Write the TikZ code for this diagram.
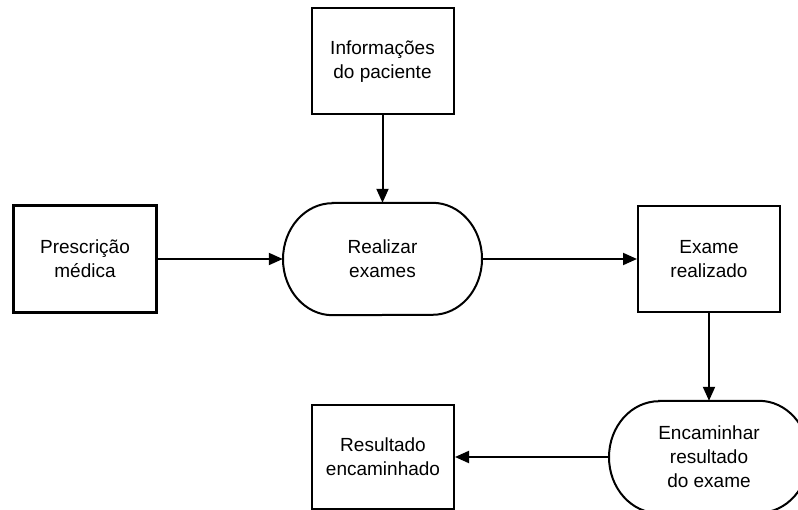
\documentclass[tikz,border=0pt]{standalone}
\usepackage{fontspec}
\setmainfont{Liberation Sans}
\usetikzlibrary{arrows.meta}
\begin{document}
\begin{tikzpicture}[x=1pt,y=-1pt,
  every node/.style={font=\fontsize{19}{24}\selectfont, align=center, inner sep=0pt},
  databox/.style={draw, line width=2pt, rectangle, minimum width=142pt, minimum height=106pt},
  sourcebox/.style={databox, line width=3.5pt},
  procbox/.style={rectangle, minimum width=199pt, minimum height=112pt},
  procline/.style={line width=2pt},
  flow/.style={line width=2pt, -{Triangle[length=14pt,width=12pt]}}]
  \useasboundingbox (0,0) rectangle (798,510);
  \clip (0,0) rectangle (798,510);

  % data boxes
  \node[databox]   (info)  at (382.5,61.5) {Informações\\do paciente};
  \node[sourcebox, minimum width=143pt, minimum height=107pt] (presc) at (85,259) {Prescrição\\médica};
  \node[databox]   (exame) at (709,259.5) {Exame\\realizado};
  \node[databox, minimum height=104pt] (res) at (383,457) {Resultado\\encaminhado};

  % processes
  \node[procbox] (real) at (382.5,259) {Realizar\\exames};
  \node[procbox, minimum width=200pt] (enc) at (709,457) {Encaminhar\\resultado\\do exame};

  \draw[procline] ([xshift=-50pt]real.north) -- ([xshift=50pt]real.north)
    arc[start angle=90, end angle=-90, x radius=49.5pt, y radius=56pt]
    -- ([xshift=-50pt]real.south)
    arc[start angle=270, end angle=90, x radius=49.5pt, y radius=56pt] -- cycle;
  \draw[procline] ([xshift=-50pt]enc.north) -- ([xshift=50pt]enc.north)
    arc[start angle=90, end angle=-90, x radius=50pt, y radius=56pt]
    -- ([xshift=-50pt]enc.south)
    arc[start angle=270, end angle=90, x radius=50pt, y radius=56pt] -- cycle;

  % flows
  \draw[flow] (info.south) -- (real.north);
  \draw[flow] (presc.east) -- (real.west);
  \draw[flow] (real.east) -- (real.east -| exame.west);
  \draw[flow] (exame.south) -- (enc.north);
  \draw[flow] (enc.west) -- (res.east);
\end{tikzpicture}
\end{document}
